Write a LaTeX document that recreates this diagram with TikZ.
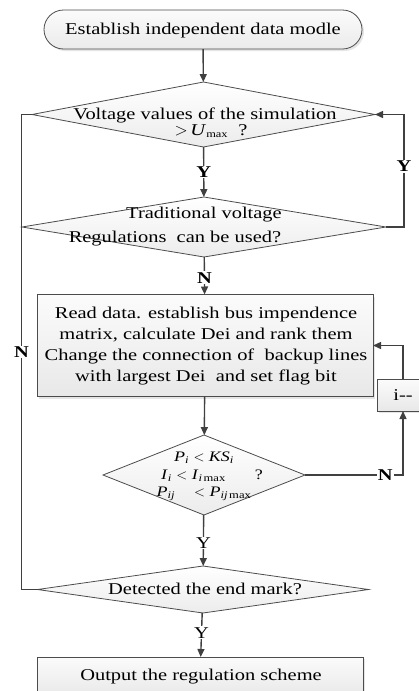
\documentclass[tikz,border=0pt]{standalone}
\usepackage{fontspec}
\setmainfont{Liberation Serif}[FakeStretch=1.24]
\usetikzlibrary{arrows.meta,shapes.geometric,shapes.misc,shadows}
\begin{document}
\begin{tikzpicture}[x=1pt,y=-1pt,
  line/.style={draw=black!75, line width=1.4pt},
  arr/.style={line, -{Triangle[length=8pt,width=7pt]}},
  dia/.style={diamond, draw=black!70, line width=0.8pt, inner sep=0pt, outer sep=0pt,
    top color=white, bottom color=gray!15},
  box/.style={rectangle, draw=black!70, line width=0.8pt, inner sep=0pt, outer sep=0pt,
    top color=gray!3, bottom color=gray!18,
    drop shadow={shadow xshift=2pt, shadow yshift=-2pt, fill=gray!40}},
  txt/.style={font=\fontsize{16.5}{21}\selectfont, align=center, inner sep=0pt},
  mtxt/.style={font=\fontsize{14.5}{17}\selectfont, inner sep=0pt},
  lab/.style={font=\fontsize{16.5}{20}\selectfont\bfseries, fill=white, inner sep=1pt},
  labr/.style={font=\fontsize{16.5}{20}\selectfont, fill=white, inner sep=1pt}
]
\useasboundingbox (0,0) rectangle (419,691);

% shapes
\node[rounded rectangle, draw=black!70, line width=0.8pt, inner sep=0pt, outer sep=0pt,
  minimum width=318pt, minimum height=39pt, top color=gray!3, bottom color=gray!16,
  drop shadow={shadow xshift=2pt, shadow yshift=-2pt, fill=gray!40}] (start) at (203,29.5) {};
\node[dia, minimum width=343pt, minimum height=65pt] (d1) at (203.5,114.5) {};
\node[dia, minimum width=364pt, minimum height=60pt] (d2) at (204,227) {};
\node[box, minimum width=336pt, minimum height=102pt] (r1) at (205,345.5) {};
\node[box, minimum width=52pt, minimum height=32pt] (ib) at (403,395) {};
\node[dia, minimum width=202pt, minimum height=80pt] (d4) at (204,475) {};
\node[dia, minimum width=331pt, minimum height=47pt] (d5) at (203,589.5) {};
\node[box, minimum width=326pt, minimum height=40pt] (r2) at (200,677) {};

% texts
\node[txt] (t0) at (203,31) {Establish independent data modle};
\node[txt] (t1a) at (205,115) {Voltage values of the simulation};
\node[txt] (t1b) at (211,131) {$>$\,\textit{U}\textsubscript{\fontsize{10}{10}\selectfont max}\ \ ?};
\node[txt] (t2a) at (204,215) {Traditional voltage};
\node[txt] (t2b) at (175,239) {Regulations\ \ can be used?};
\node[txt] (t3) at (206,346.5) {Read data. establish bus impendence\\
  matrix, calculate Dei and rank them\\
  Change the connection of\ \ backup lines\\
  with largest Dei\ \ and set flag bit};
\node[txt] (ti) at (403,395) {i-{}-};
\node[mtxt] (t4a) at (204,458) {\textit{P}\textsubscript{\textit{i}} $<$ \textit{KS}\textsubscript{\textit{i}}};
\node[mtxt] (t4b) at (212,476) {\textit{I}\textsubscript{\textit{i}} $<$ \textit{I}\textsubscript{\textit{i}\,max}\qquad ?};
\node[mtxt] (t4c) at (204,494) {\textit{P}\textsubscript{\textit{ij}}\quad\ $<$ \textit{P}\textsubscript{\textit{ij}\,max}};
\node[txt] (t5) at (205,589) {Detected the end mark?};
\node[txt] (t6) at (201,677) {Output the regulation scheme};

% helper coordinates
\coordinate (cr) at (404,0);
\coordinate (cl) at (21.5,0);
\coordinate (ci) at (403,0);

% connectors
\draw[arr] (start) -- (d1);
\draw[arr] (d1) -- node[lab] (ly1) {Y} (d2);
\draw[arr] (d2.east) -- (cr |- d2.east) -- node[lab, pos=0.54] (ly2) {Y} (cr |- d1.east) -- (d1.east);
\draw[arr] (d2) -- node[lab, pos=0.55] (ln1) {N} (r1);
\draw[arr] (r1) -- (d4);
\draw[arr] (d4.east) -- node[lab, pos=0.82] (ln2) {N} (ci |- d4.east) -- (ib.south);
\draw[arr] (ib.north) -- (ci |- r1.east) -- (r1.east);
\draw[arr] (d4) -- node[labr, pos=0.55] (ly3) {Y} (d5);
\draw[line] (d5.west) -- (cl |- d5.west) -- node[lab, pos=0.5] (ln3) {N} (cl |- d1.west) -- (d1.west);
\draw[arr] (d5) -- node[labr, pos=0.45] (ly4) {Y} (r2);
\end{tikzpicture}
\end{document}
